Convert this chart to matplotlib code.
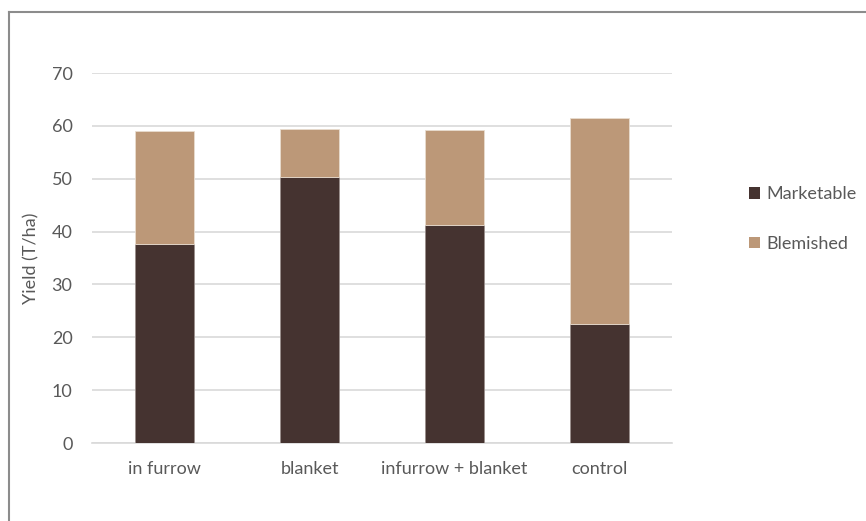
import matplotlib.pyplot as plt
from matplotlib.lines import Line2D
from matplotlib.patches import Patch

categories = ["in furrow", "blanket", "infurrow + blanket", "control"]
marketable = [37.7, 50.4, 41.2, 22.6]
blemished = [21.3, 9.1, 18.1, 38.9]

dark = "#453330"
tan = "#BC9878"
text_grey = "#595959"

plt.rcParams["font.family"] = ["Lato", "DejaVu Sans"]

fig = plt.figure(figsize=(8.66, 5.21), dpi=100)
ax = fig.add_axes([92 / 866, 1 - 443 / 521, 580 / 866, 370 / 521])

x = range(len(categories))
ax.bar(x, marketable, width=0.405, color=dark, edgecolor="#9a8f8c", linewidth=0.6,
       label="Marketable", zorder=3)
ax.bar(x, blemished, width=0.405, bottom=marketable, color=tan, edgecolor="#e8dccf",
       linewidth=0.6, label="Blemished", zorder=3)

ax.set_xlim(-0.5, len(categories) - 0.5)
ax.set_ylim(0, 70)
ax.set_yticks(range(0, 71, 10))
ax.set_xticks(list(x))
ax.set_xticklabels(categories)
ax.yaxis.grid(True, color="#d9d9d9", linewidth=1.2, zorder=0)
ax.set_axisbelow(True)
for side in ("top", "right", "left"):
    ax.spines[side].set_visible(False)
ax.spines["bottom"].set_color("#d9d9d9")
ax.spines["bottom"].set_linewidth(1.2)
ax.tick_params(axis="both", length=0, labelsize=13, colors=text_grey)
ax.tick_params(axis="x", pad=13)
ax.tick_params(axis="y", pad=14)
ax.set_ylabel("Yield (T/ha)", fontsize=13, color=text_grey, labelpad=9)

handles = [Patch(facecolor=dark, edgecolor="none"), Patch(facecolor=tan, edgecolor="none")]
fig.legend(handles, ["Marketable", "Blemished"], loc="center left",
           bbox_to_anchor=(749 / 866, 1 - 219 / 521), frameon=False, fontsize=13,
           labelcolor=text_grey, handlelength=0.6, handleheight=0.6,
           handletextpad=0.35, labelspacing=1.85, borderaxespad=0, borderpad=0)

# outer frame, only the left and top edges show
fig.add_artist(Line2D([9 / 866, 9 / 866], [0, 1 - 12 / 521], color="#8c8c8c",
                      linewidth=1.5, transform=fig.transFigure))
fig.add_artist(Line2D([9 / 866, 1], [1 - 12 / 521, 1 - 12 / 521], color="#8c8c8c",
                      linewidth=1.5, transform=fig.transFigure))

fig.savefig("out.png", dpi=100)
